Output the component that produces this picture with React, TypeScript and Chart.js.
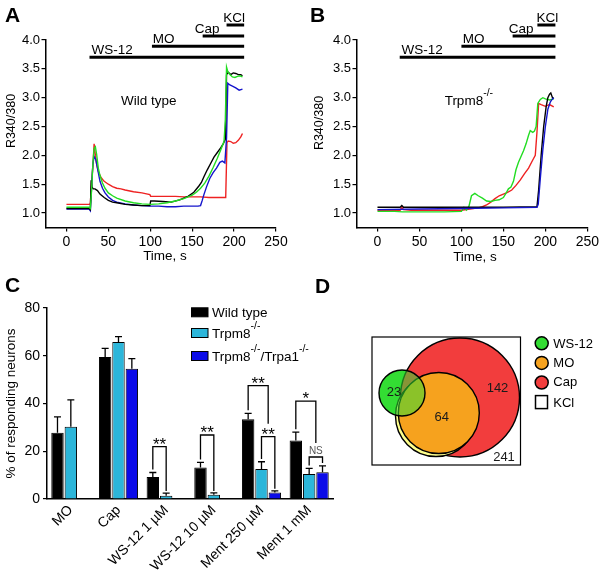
import { useEffect, useRef } from 'react';
import { Chart, registerables } from 'chart.js';

Chart.register(...registerables);

const FONT = "'Liberation Sans', Arial, Helvetica, sans-serif";

// ---------------- Panels A & B : Ca2+ imaging traces ----------------
const timeTicks = [0, 50, 100, 150, 200, 250];
const ratioTicks = [1.0, 1.5, 2.0, 2.5, 3.0, 3.5, 4.0];

const stimNames = ['WS-12', 'MO', 'Cap', 'KCl'];
const stimStartA = [27.5, 102, 162.5, 191];
const stimStartB = [26.5, 100, 161, 190.5];
const stimEnd = [212, 212, 212, 212];
const stimLevel = [3.7, 3.89, 4.07, 4.26];
const stimLabelTA = [30, 103, 153, 187];
const stimLabelTB = [28.5, 101.5, 156.5, 189.5];

// Panel A (wild type)
const aBlackT = [0, 10, 20, 27, 28.5, 29.5, 30.5, 32, 34, 37, 40, 45, 50, 55, 60, 70, 80, 90, 99.5, 100.5, 105, 115, 125, 135, 145, 152, 158, 161, 164, 168, 172, 176, 180, 184, 187, 189.5, 191, 193, 196, 199, 202, 205, 208, 210];
const aBlackY = [1.08, 1.08, 1.08, 1.08, 1.06, 1.57, 1.45, 1.42, 1.42, 1.39, 1.33, 1.27, 1.22, 1.19, 1.18, 1.15, 1.14, 1.13, 1.13, 1.21, 1.21, 1.2, 1.19, 1.23, 1.29, 1.36, 1.47, 1.53, 1.63, 1.75, 1.86, 1.97, 2.05, 2.13, 2.2, 2.28, 3.4, 3.44, 3.4, 3.43, 3.42, 3.4, 3.4, 3.38];
const aRedT = [0, 10, 20, 27, 28.5, 30, 31.5, 33, 34.5, 36, 38, 41, 45, 50, 55, 60, 65, 70, 80, 90, 99.5, 100.5, 110, 120, 130, 140, 150, 160, 170, 180, 190, 191.5, 193, 196, 199, 202, 205, 208, 210];
const aRedY = [1.15, 1.15, 1.15, 1.15, 1.16, 1.55, 1.8, 2.2, 2.0, 1.85, 1.72, 1.62, 1.55, 1.5, 1.46, 1.43, 1.42, 1.4, 1.37, 1.35, 1.32, 1.29, 1.29, 1.29, 1.29, 1.28, 1.28, 1.28, 1.27, 1.27, 1.27, 2.22, 2.25, 2.24, 2.21, 2.22, 2.26, 2.32, 2.38];
const aGreenT = [0, 10, 20, 27, 28.5, 30, 31.5, 33, 34.5, 36, 38, 40, 43, 46, 50, 55, 60, 70, 80, 90, 100, 110, 120, 130, 140, 150, 155, 160, 165, 170, 175, 180, 185, 188, 189.5, 191, 192.5, 195, 198, 201, 204, 207, 210];
const aGreenY = [1.1, 1.1, 1.1, 1.1, 1.08, 1.4, 1.85, 2.12, 2.15, 2.02, 1.78, 1.65, 1.52, 1.43, 1.35, 1.3, 1.26, 1.21, 1.18, 1.16, 1.15, 1.16, 1.18, 1.21, 1.25, 1.31, 1.36, 1.43, 1.52, 1.64, 1.79, 1.95, 2.13, 2.24, 2.6, 3.53, 3.45, 3.4, 3.36, 3.35, 3.37, 3.38, 3.36];
const aBlueT = [0, 10, 20, 27, 28.5, 30, 31.5, 33, 35, 37, 40, 43, 46, 50, 55, 60, 70, 80, 90, 100, 110, 120, 130, 140, 150, 157, 160, 162, 164, 167, 171, 175, 179, 183, 186, 189, 191, 192.5, 195, 198, 202, 206, 210];
const aBlueY = [1.07, 1.07, 1.07, 1.07, 1.04, 1.45, 1.85, 1.98, 1.93, 1.78, 1.55, 1.43, 1.35, 1.28, 1.22, 1.19, 1.16, 1.14, 1.13, 1.12, 1.12, 1.11, 1.11, 1.12, 1.12, 1.12, 1.13, 1.22, 1.32, 1.45, 1.6, 1.7, 1.78, 1.88, 1.9, 1.87, 2.3, 3.25, 3.22, 3.2, 3.17, 3.13, 3.15];

// Panel B (Trpm8-/-)
const bBlackT = [0, 27, 29, 31, 60, 100, 150, 190, 192, 195, 198, 201, 203, 205, 206.5, 207.5, 208.5, 210];
const bBlackY = [1.1, 1.1, 1.13, 1.1, 1.1, 1.1, 1.1, 1.11, 1.4, 2.0, 2.5, 2.85, 3.0, 3.06, 3.08, 3.04, 3.0, 2.99];
const bBlueT = [0, 50, 100, 150, 190, 191.5, 194, 197, 200, 203, 206, 208, 210];
const bBlueY = [1.06, 1.07, 1.08, 1.09, 1.1, 1.15, 1.6, 2.1, 2.5, 2.8, 2.93, 2.97, 3.0];
const bRedT = [0, 27, 29, 31, 40, 60, 80, 100, 110, 120, 125, 130, 135, 140, 145, 150, 155, 160, 165, 170, 175, 180, 185, 188, 190, 192, 195, 200, 205, 210];
const bRedY = [1.05, 1.05, 1.1, 1.06, 1.05, 1.05, 1.05, 1.05, 1.07, 1.09, 1.11, 1.14, 1.19, 1.25, 1.3, 1.33, 1.36, 1.4, 1.48, 1.57, 1.68, 1.78, 1.92, 2.0, 2.4, 2.9, 2.88, 2.85, 2.88, 2.84];
const bGreenT = [0, 20, 30, 40, 60, 80, 100, 103, 106, 109, 112, 116, 120, 125, 130, 135, 140, 145, 150, 153, 156, 159, 162, 165, 168, 171, 174, 177, 180, 182, 185, 187, 189, 191, 194, 197, 200, 205, 210];
const bGreenY = [1.03, 1.03, 1.02, 1.02, 1.02, 1.02, 1.03, 1.1, 1.05, 1.12, 1.3, 1.34, 1.3, 1.26, 1.21, 1.2, 1.22, 1.23, 1.27, 1.34, 1.42, 1.45, 1.55, 1.75, 1.88, 1.98, 2.08, 2.2, 2.35, 2.43, 2.4, 2.42, 2.5, 2.9, 2.97, 3.0, 2.98, 2.96, 2.98];

// ---------------- Panel C : % responding neurons ----------------
const cCategories = ['MO', 'Cap', 'WS-12 1 µM', 'WS-12 10 µM', 'Ment 250 µM', 'Ment 1 mM'];
const pctTicks = [0, 20, 40, 60, 80];
const wtPct = [27.8, 59.5, 9.2, 13.2, 33.4, 24.5];
const wtErr = [6.6, 3.6, 1.9, 2.1, 2.5, 3.5];
const trpm8Pct = [30.3, 65.8, 1.4, 1.8, 12.6, 10.5];
const trpm8Err = [11.2, 2.2, 1.1, 0.8, 3.0, 2.3];
const dkoPct = [null, 54.6, null, null, 2.7, 11.2];
const dkoErr = [null, 4.2, null, null, 0.7, 2.7];
const sigCat = [2, 3, 4, 4, 5, 5];
const sigFrom = [0, 0, 0, 1, 0, 1];
const sigTo = [1, 1, 1.5, 2, 1.5, 2];
const sigTop = [21.9, 26.8, 47.5, 26.1, 41, 17.6];
const sigFromEnd = [12.4, 16.5, 37.2, 16.8, 29.2, 14];
const sigToEnd = [3.4, 3.4, 31.5, 4.3, 23.5, 15.1];
const sigText = ['**', '**', '**', '**', '*', 'NS'];

// ---------------- Panel D : Venn diagram ----------------
const vennLegend = ['WS-12', 'MO', 'Cap', 'KCl'];
const vennCounts = ['23', '64', '142', '241'];
const vennCountX = [22, 69.7, 125.5, 132];
const vennCountY = [74, 48.3, 77.5, 8.3];
// circles: WS-12 (base), Cap, halo, MO, WS-12 (overlay)
const circleX = [30, 88, 64, 66.8, 30];
const circleY = [72, 67.5, 49, 52, 72];
const circleR = [23, 59.5, 40.5, 40.5, 23];

const CYAN = '#2cb6da';
const DKO = '#0b0be8';
const V_GREEN = '#33dd33';
const V_ORANGE = '#f6a21e';
const V_RED = '#f23d3d';

function drawCentered(ctx: any, text: string, cx: number, cy: number, align = 'center') {
  const m = ctx.measureText(text);
  ctx.textAlign = align;
  ctx.textBaseline = 'alphabetic';
  ctx.fillText(text, cx, cy + (m.actualBoundingBoxAscent - m.actualBoundingBoxDescent) / 2);
}

function drawSegments(ctx: any, segs: any[], x: number, baseline: number, size: number, supSize: number, raise: number) {
  let cx = x;
  ctx.textAlign = 'left';
  ctx.textBaseline = 'alphabetic';
  segs.forEach((s) => {
    ctx.font = `${s.sup ? supSize : size}px ${FONT}`;
    ctx.fillText(s.t, cx, s.sup ? baseline - raise : baseline);
    cx += ctx.measureText(s.t).width;
  });
}

function toPts(t: number[], y: number[]) {
  return t.map((v, i) => ({ x: v, y: y[i] }));
}

function traceConfig(p: any) {
  const traceSets = p.traces.map((tr: any) => ({
    data: toPts(tr.t, tr.y),
    borderColor: tr.color,
    borderWidth: 1.4,
    pointRadius: 0,
    tension: 0,
    fill: false,
  }));
  const stimSets = stimNames.map((n, i) => ({
    label: n,
    data: [
      { x: p.stimStart[i], y: stimLevel[i] },
      { x: stimEnd[i], y: stimLevel[i] },
    ],
    borderColor: '#000',
    borderWidth: 3,
    pointRadius: 0,
    borderCapStyle: 'butt',
    clip: false,
  }));
  const plugin = {
    id: 'traceAnnot' + p.letter,
    afterDraw(chart: any) {
      const { ctx } = chart;
      const xs = chart.scales.x;
      const ys = chart.scales.y;
      ctx.save();
      ctx.fillStyle = '#000';
      ctx.font = `13.5px ${FONT}`;
      ctx.textAlign = 'left';
      ctx.textBaseline = 'alphabetic';
      stimNames.forEach((n, i) => {
        ctx.fillText(n, xs.getPixelForValue(p.labelT[i]), ys.getPixelForValue(stimLevel[i]) - 3);
      });
      const gx = xs.getPixelForValue(p.condX);
      const gy = ys.getPixelForValue(p.condY);
      if (p.condSegs) {
        drawSegments(ctx, p.condSegs, gx, gy, 13.5, 10.5, 9);
      } else {
        ctx.font = `13.5px ${FONT}`;
        ctx.textAlign = 'center';
        ctx.fillText(p.condText, gx, gy);
      }
      ctx.font = `13.5px ${FONT}`;
      drawCentered(ctx, 'Time, s', p.xTitle[0], p.xTitle[1]);
      ctx.save();
      ctx.translate(p.yTitle[0], p.yTitle[1]);
      ctx.rotate(-Math.PI / 2);
      ctx.font = `12.5px ${FONT}`;
      drawCentered(ctx, 'R340/380', 0, 0);
      ctx.restore();
      ctx.font = `bold 21px ${FONT}`;
      ctx.textAlign = 'left';
      ctx.textBaseline = 'alphabetic';
      ctx.fillText(p.letter, p.letterPos[0], p.letterPos[1]);
      ctx.restore();
    },
  };
  return {
    type: 'line',
    data: { datasets: [...traceSets, ...stimSets] },
    options: {
      responsive: false,
      animation: false,
      events: [],
      layout: { padding: { left: p.padLeft, top: 40, right: p.padRight, bottom: 291 } },
      plugins: { legend: { display: false }, tooltip: { enabled: false } },
      scales: {
        x: {
          type: 'linear',
          min: -25,
          max: 250,
          afterBuildTicks: (s: any) => {
            s.ticks = timeTicks.map((v) => ({ value: v }));
          },
          afterFit: (s: any) => {
            s.height = 52.5;
          },
          ticks: { color: '#000', font: { size: 14, family: FONT }, padding: 2, maxRotation: 0, minRotation: 0, callback: (v: any) => String(v) },
          grid: { drawOnChartArea: false, color: '#000', lineWidth: 1.2, tickLength: 4 },
          border: { color: '#000', width: 1.5 },
        },
        y: {
          type: 'linear',
          min: 0.75,
          max: 4.0,
          afterBuildTicks: (s: any) => {
            s.ticks = ratioTicks.map((v) => ({ value: v }));
          },
          afterFit: (s: any) => {
            s.width = p.yWidth;
          },
          ticks: { color: '#000', font: { size: 13, family: FONT }, padding: 1.5, callback: (v: any) => Number(v).toFixed(1) },
          grid: { drawOnChartArea: false, color: '#000', lineWidth: 1.2, tickLength: 4 },
          border: { color: '#000', width: 1.5 },
        },
      },
    },
    plugins: [plugin],
  };
}

const configA = () =>
  traceConfig({
    letter: 'A',
    letterPos: [5, 22],
    padLeft: 0,
    padRight: 325,
    yWidth: 45.5,
    stimStart: stimStartA,
    labelT: stimLabelTA,
    condText: 'Wild type',
    condX: 98.3,
    condY: 2.88,
    xTitle: [165, 256.7],
    yTitle: [10, 121],
    traces: [
      { t: aGreenT, y: aGreenY, color: '#22dd22' },
      { t: aBlackT, y: aBlackY, color: '#000000' },
      { t: aBlueT, y: aBlueY, color: '#1515cc' },
      { t: aRedT, y: aRedY, color: '#ee2222' },
    ],
  });

const configB = () =>
  traceConfig({
    letter: 'B',
    letterPos: [310, 22],
    padLeft: 300,
    padRight: 13.5,
    yWidth: 56.5,
    stimStart: stimStartB,
    labelT: stimLabelTB,
    condSegs: [{ t: 'Trpm8' }, { t: '-/-', sup: true }],
    condX: 80,
    condY: 2.88,
    xTitle: [475, 257.5],
    yTitle: [318, 123],
    traces: [
      { t: bBlueT, y: bBlueY, color: '#1515cc' },
      { t: bBlackT, y: bBlackY, color: '#000000' },
      { t: bGreenT, y: bGreenY, color: '#22dd22' },
      { t: bRedT, y: bRedY, color: '#ee2222' },
    ],
  });

const cLegendRows = [
  [{ t: 'Wild type' }],
  [{ t: 'Trpm8' }, { t: '-/-', sup: true }],
  [{ t: 'Trpm8' }, { t: '-/-', sup: true }, { t: '/Trpa1' }, { t: '-/-', sup: true }],
];

const configC = () => {
  const plugin = {
    id: 'cExtras',
    afterDatasetsDraw(chart: any) {
      const { ctx } = chart;
      const ys = chart.scales.y;
      const barX = (di: number, j: number) => {
        const lo = Math.floor(di);
        const hi = Math.ceil(di);
        const a = chart.getDatasetMeta(lo).data[j].x;
        const b = chart.getDatasetMeta(hi).data[j].x;
        return a + (b - a) * (di - lo);
      };
      ctx.save();
      ctx.strokeStyle = '#000';
      ctx.lineWidth = 1.3;
      const vals = [wtPct, trpm8Pct, dkoPct];
      const errs = [wtErr, trpm8Err, dkoErr];
      vals.forEach((v: any[], di) =>
        v.forEach((val, j) => {
          if (val == null || errs[di][j] == null) return;
          const x = barX(di, j);
          const y0 = ys.getPixelForValue(val);
          const y1 = ys.getPixelForValue(val + (errs[di][j] as number));
          ctx.beginPath();
          ctx.moveTo(x, y0);
          ctx.lineTo(x, y1);
          ctx.moveTo(x - 3.5, y1);
          ctx.lineTo(x + 3.5, y1);
          ctx.stroke();
        })
      );
      sigCat.forEach((cat, k) => {
        const xa = barX(sigFrom[k], cat);
        const xb = barX(sigTo[k], cat);
        const yt = ys.getPixelForValue(sigTop[k]);
        ctx.beginPath();
        ctx.moveTo(xa, ys.getPixelForValue(sigFromEnd[k]));
        ctx.lineTo(xa, yt);
        ctx.lineTo(xb, yt);
        ctx.lineTo(xb, ys.getPixelForValue(sigToEnd[k]));
        ctx.stroke();
        if (sigText[k] === 'NS') {
          ctx.font = `10px ${FONT}`;
          ctx.fillStyle = '#555';
          drawCentered(ctx, 'NS', (xa + xb) / 2, yt - 6.5);
        } else {
          ctx.font = `17px ${FONT}`;
          ctx.fillStyle = '#000';
          drawCentered(ctx, sigText[k], (xa + xb) / 2, yt - 5.7);
        }
      });
      ctx.restore();
    },
    afterDraw(chart: any) {
      const { ctx } = chart;
      ctx.save();
      const colors = ['#000000', CYAN, DKO];
      const rowY = [312.3, 333, 356];
      cLegendRows.forEach((segs, i) => {
        ctx.fillStyle = colors[i];
        ctx.fillRect(191.5, rowY[i] - 4.5, 16.5, 9);
        ctx.strokeStyle = '#000';
        ctx.lineWidth = 1;
        ctx.strokeRect(191.5, rowY[i] - 4.5, 16.5, 9);
        ctx.fillStyle = '#000';
        drawSegments(ctx, segs, 212, rowY[i] + 5, 13.5, 10.5, 9.5);
      });
      ctx.font = `bold 21px ${FONT}`;
      ctx.textAlign = 'left';
      ctx.textBaseline = 'alphabetic';
      ctx.fillText('C', 5, 292);
      ctx.restore();
    },
  };
  return {
    type: 'bar',
    data: {
      labels: cCategories,
      datasets: [
        { label: 'Wild type', data: wtPct, backgroundColor: '#000000', borderColor: '#000', borderWidth: 1 },
        { label: 'Trpm8-/-', data: trpm8Pct, backgroundColor: CYAN, borderColor: '#000', borderWidth: 1 },
        { label: 'Trpm8-/-/Trpa1-/-', data: dkoPct, backgroundColor: DKO, borderColor: '#000', borderWidth: 1 },
      ],
    },
    options: {
      responsive: false,
      animation: false,
      events: [],
      datasets: { bar: { categoryPercentage: 0.84, barPercentage: 0.93 } },
      layout: { padding: { left: 0, top: 308, right: 268, bottom: 0 } },
      plugins: { legend: { display: false }, tooltip: { enabled: false } },
      scales: {
        x: {
          type: 'category',
          offset: true,
          grid: { display: false, drawTicks: false },
          border: { color: '#000', width: 1.5 },
          ticks: { autoSkip: false, minRotation: 45, maxRotation: 45, padding: 3, font: { size: 14, family: FONT }, color: '#000' },
          afterFit: (s: any) => {
            s.height = 72;
          },
        },
        y: {
          min: 0,
          max: 80,
          afterBuildTicks: (s: any) => {
            s.ticks = pctTicks.map((v) => ({ value: v }));
          },
          afterFit: (s: any) => {
            s.width = 47;
          },
          ticks: { font: { size: 14, family: FONT }, padding: 3, color: '#000' },
          grid: { drawOnChartArea: false, color: '#000', lineWidth: 1.2, tickLength: 4 },
          border: { color: '#000', width: 1.5 },
          title: { display: true, text: '% of responding neurons', color: '#000', font: { size: 13.5, family: FONT }, padding: { top: 2.9, bottom: 0 } },
        },
      },
    },
    plugins: [plugin],
  };
};

const configD = () => {
  const fills = [V_GREEN, V_RED, '#ffff8c', V_ORANGE, 'rgba(51,221,51,0.55)'];
  const strokes = ['rgba(0,0,0,0)', '#000', '#000', '#000', '#000'];
  const order = [5, 4, 3, 2, 1];
  const plugin = {
    id: 'dExtras',
    beforeDatasetsDraw(chart: any) {
      const { ctx, chartArea: a } = chart;
      ctx.save();
      ctx.strokeStyle = '#000';
      ctx.lineWidth = 1.2;
      ctx.strokeRect(a.left, a.top, a.right - a.left, a.bottom - a.top);
      ctx.restore();
    },
    afterDraw(chart: any) {
      const { ctx } = chart;
      const xs = chart.scales.x;
      const ys = chart.scales.y;
      ctx.save();
      ctx.fillStyle = '#1a1a1a';
      ctx.font = `13px ${FONT}`;
      vennCounts.forEach((c, i) => drawCentered(ctx, c, xs.getPixelForValue(vennCountX[i]), ys.getPixelForValue(vennCountY[i])));
      const legColors = [V_GREEN, V_ORANGE, V_RED, '#ffffff'];
      vennLegend.forEach((name, i) => {
        const cy = 343.3 + i * 19.6;
        ctx.fillStyle = legColors[i];
        ctx.strokeStyle = '#000';
        ctx.lineWidth = 1.5;
        if (i < 3) {
          ctx.beginPath();
          ctx.arc(541.7, cy, 6.5, 0, Math.PI * 2);
          ctx.fill();
          ctx.stroke();
        } else {
          ctx.fillRect(535.5, cy - 6.5, 12, 13);
          ctx.strokeRect(535.5, cy - 6.5, 12, 13);
        }
        ctx.fillStyle = '#000';
        ctx.font = `13px ${FONT}`;
        drawCentered(ctx, name, 553.3, cy, 'left');
      });
      ctx.font = `bold 21px ${FONT}`;
      ctx.textAlign = 'left';
      ctx.textBaseline = 'alphabetic';
      ctx.fillText('D', 315, 293);
      ctx.restore();
    },
  };
  return {
    type: 'bubble',
    data: {
      // scale units are chosen equal to pixels, so r is in the same units as x/y
      datasets: circleX.map((cx, i) => ({
        data: [{ x: cx, y: circleY[i], r: circleR[i] }],
        backgroundColor: fills[i],
        borderColor: strokes[i],
        borderWidth: i === 0 ? 0 : 1.4,
        order: order[i],
        clip: false,
      })),
    },
    options: {
      responsive: false,
      animation: false,
      events: [],
      layout: { padding: { left: 372, top: 337, right: 80.5, bottom: 106 } },
      plugins: { legend: { display: false }, tooltip: { enabled: false } },
      scales: {
        x: { type: 'linear', display: false, min: 0, max: 148.5 },
        y: { type: 'linear', display: false, min: 0, max: 128 },
      },
    },
    plugins: [plugin],
  };
};

export default function App() {
  const r0 = useRef<HTMLCanvasElement>(null);
  const r1 = useRef<HTMLCanvasElement>(null);
  const r2 = useRef<HTMLCanvasElement>(null);
  const r3 = useRef<HTMLCanvasElement>(null);
  const refs = [r0, r1, r2, r3];

  useEffect(() => {
    Chart.defaults.font.family = FONT;
    Chart.defaults.color = '#000';
    const cfgs = [configA(), configB(), configC(), configD()];
    const charts = cfgs.map((cfg, i) => new Chart(refs[i].current as any, cfg as any));
    return () => charts.forEach((c) => c.destroy());
  }, []);

  return (
    <div style={{ position: 'absolute', left: 0, top: 0, width: 601, height: 571, background: '#fff' }}>
      {refs.map((r, i) => (
        <canvas key={i} ref={r} width={601} height={571} style={{ position: 'absolute', left: 0, top: 0 }} />
      ))}
    </div>
  );
}
